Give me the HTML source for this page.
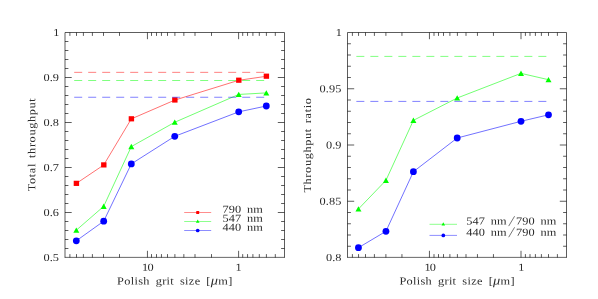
<!DOCTYPE html><html><head><meta charset="utf-8"><style>html,body{margin:0;padding:0;background:#fff}svg{display:block;will-change:transform}text{text-rendering:geometricPrecision;font-family:"Liberation Serif",serif;fill:#2b2b2b}</style></head><body>
<svg width="598" height="299" viewBox="0 0 598 299">
<rect width="598" height="299" fill="#fff"/>
<path d="M65 257.5V32.5H284.5V257.5" stroke="#000" stroke-width="0.64" fill="none"/>
<path d="M64.7 257.38H284.8" stroke="#000" stroke-width="0.6" fill="none"/>
<path d="M147.45 32.5v6.7M147.45 257.5v-6.7M119.50 32.5v3.4M119.50 257.5v-3.4M103.50 32.5v3.4M103.50 257.5v-3.4M92.40 32.5v3.4M92.40 257.5v-3.4M83.40 32.5v3.4M83.40 257.5v-3.4M76.50 32.5v3.4M76.50 257.5v-3.4M69.90 32.5v3.4M69.90 257.5v-3.4M238.60 32.5v6.7M238.60 257.5v-6.7M211.50 32.5v3.4M211.50 257.5v-3.4M195.00 32.5v3.4M195.00 257.5v-3.4M183.85 32.5v3.4M183.85 257.5v-3.4M174.90 32.5v3.4M174.90 257.5v-3.4M167.50 32.5v3.4M167.50 257.5v-3.4M161.45 32.5v3.4M161.45 257.5v-3.4M156.50 32.5v3.4M156.50 257.5v-3.4M151.50 32.5v3.4M151.50 257.5v-3.4M275.30 32.5v3.4M275.30 257.5v-3.4M266.40 32.5v3.4M266.40 257.5v-3.4M259.30 32.5v3.4M259.30 257.5v-3.4M252.90 32.5v3.4M252.90 257.5v-3.4M247.55 32.5v3.4M247.55 257.5v-3.4M242.70 32.5v3.4M242.70 257.5v-3.4M65 248.50h3.4M284.5 248.50h-3.4M65 239.50h3.4M284.5 239.50h-3.4M65 230.50h3.4M284.5 230.50h-3.4M65 221.50h3.4M284.5 221.50h-3.4M65 212.50h6.7M284.5 212.50h-6.7M65 203.50h3.4M284.5 203.50h-3.4M65 194.50h3.4M284.5 194.50h-3.4M65 185.50h3.4M284.5 185.50h-3.4M65 176.50h3.4M284.5 176.50h-3.4M65 167.50h6.7M284.5 167.50h-6.7M65 158.50h3.4M284.5 158.50h-3.4M65 149.50h3.4M284.5 149.50h-3.4M65 140.50h3.4M284.5 140.50h-3.4M65 131.50h3.4M284.5 131.50h-3.4M65 122.50h6.7M284.5 122.50h-6.7M65 113.50h3.4M284.5 113.50h-3.4M65 104.50h3.4M284.5 104.50h-3.4M65 95.50h3.4M284.5 95.50h-3.4M65 86.50h3.4M284.5 86.50h-3.4M65 77.50h6.7M284.5 77.50h-6.7M65 68.50h3.4M284.5 68.50h-3.4M65 59.50h3.4M284.5 59.50h-3.4M65 50.50h3.4M284.5 50.50h-3.4M65 41.50h3.4M284.5 41.50h-3.4" stroke="#000" stroke-width="0.64" fill="none"/>
<text transform="translate(53.20 35.90) rotate(0.03) scale(1.15 1)" font-size="10.7" word-spacing="2.2" textLength="5.04" lengthAdjust="spacing">1</text>
<text transform="translate(43.50 80.90) rotate(0.03) scale(1.15 1)" font-size="10.7" word-spacing="2.2" textLength="13.48" lengthAdjust="spacing">0.9</text>
<text transform="translate(43.50 125.90) rotate(0.03) scale(1.15 1)" font-size="10.7" word-spacing="2.2" textLength="13.48" lengthAdjust="spacing">0.8</text>
<text transform="translate(43.50 170.90) rotate(0.03) scale(1.15 1)" font-size="10.7" word-spacing="2.2" textLength="13.48" lengthAdjust="spacing">0.7</text>
<text transform="translate(43.50 215.90) rotate(0.03) scale(1.15 1)" font-size="10.7" word-spacing="2.2" textLength="13.48" lengthAdjust="spacing">0.6</text>
<text transform="translate(43.50 260.90) rotate(0.03) scale(1.15 1)" font-size="10.7" word-spacing="2.2" textLength="13.48" lengthAdjust="spacing">0.5</text>
<path d="M74.2 72.35H264.6" stroke="#ff0000" stroke-width="0.5" stroke-dasharray="8 6" fill="none"/>
<polyline points="76.30,183.45 103.70,165.00 131.30,118.90 174.75,100.10 238.70,80.30 266.30,76.30" fill="none" stroke="#ff0000" stroke-width="0.56"/>
<rect x="73.70" y="180.75" width="5.4" height="5.2" fill="#ff0000"/>
<rect x="101.10" y="162.30" width="5.4" height="5.2" fill="#ff0000"/>
<rect x="128.70" y="116.20" width="5.4" height="5.2" fill="#ff0000"/>
<rect x="172.15" y="97.40" width="5.4" height="5.2" fill="#ff0000"/>
<rect x="236.10" y="77.60" width="5.4" height="5.2" fill="#ff0000"/>
<rect x="263.70" y="73.60" width="5.4" height="5.2" fill="#ff0000"/>
<path d="M74.2 80.50H264.6" stroke="#00ff00" stroke-width="0.5" stroke-dasharray="8 6" fill="none"/>
<polyline points="76.30,230.20 103.70,206.35 131.30,146.60 174.75,122.25 238.70,94.45 266.30,92.90" fill="none" stroke="#00ff00" stroke-width="0.56"/>
<path d="M76.30 227.45L79.30 232.80H73.30Z" fill="#00ff00"/>
<path d="M103.70 203.60L106.70 208.95H100.70Z" fill="#00ff00"/>
<path d="M131.30 143.85L134.30 149.20H128.30Z" fill="#00ff00"/>
<path d="M174.75 119.50L177.75 124.85H171.75Z" fill="#00ff00"/>
<path d="M238.70 91.70L241.70 97.05H235.70Z" fill="#00ff00"/>
<path d="M266.30 90.15L269.30 95.50H263.30Z" fill="#00ff00"/>
<path d="M74.2 97.25H264.6" stroke="#0000ff" stroke-width="0.5" stroke-dasharray="8 6" fill="none"/>
<polyline points="76.30,240.80 103.70,221.20 131.30,163.90 174.75,136.30 238.70,111.85 266.30,106.00" fill="none" stroke="#0000ff" stroke-width="0.56"/>
<circle cx="76.30" cy="240.80" r="3.4" fill="#0000ff"/>
<circle cx="103.70" cy="221.20" r="3.4" fill="#0000ff"/>
<circle cx="131.30" cy="163.90" r="3.4" fill="#0000ff"/>
<circle cx="174.75" cy="136.30" r="3.4" fill="#0000ff"/>
<circle cx="238.70" cy="111.85" r="3.4" fill="#0000ff"/>
<circle cx="266.30" cy="106.00" r="3.4" fill="#0000ff"/>
<text transform="translate(142.10 270.80) rotate(0.03) scale(1.15 1)" font-size="10.7" word-spacing="2.2" textLength="10.00" lengthAdjust="spacing">10</text>
<text transform="translate(235.60 270.80) rotate(0.03) scale(1.15 1)" font-size="10.7" word-spacing="2.2">1</text>
<text transform="translate(117.10 284.40) rotate(0.03) scale(1.15 1)" font-size="10.7" word-spacing="2.2" textLength="100.17" lengthAdjust="spacing">Polish grit size [<tspan font-style="italic" font-size="12.5">μ</tspan>m]</text>
<text transform="translate(35.20 191.30) rotate(-90.03) scale(1.15 1)" font-size="10.7" word-spacing="1.2" textLength="80.87" lengthAdjust="spacing">Total throughput</text>
<path d="M184.2 212.5H211.2" stroke="#ff0000" stroke-width="0.45"/>
<rect x="196.2" y="210.9" width="3.0" height="3.2" rx="0.6" fill="#ff0000"/>
<text transform="translate(222.50 212.70) rotate(0.03) scale(1.15 1)" font-size="10.7" word-spacing="2.2" textLength="35.04" lengthAdjust="spacing">790 nm</text>
<path d="M184.2 221.5H211.2" stroke="#00ff00" stroke-width="0.45"/>
<path d="M197.7 219.5L199.5 222.7H195.89999999999998Z" fill="#00ff00"/>
<text transform="translate(222.50 221.70) rotate(0.03) scale(1.15 1)" font-size="10.7" word-spacing="2.2" textLength="35.04" lengthAdjust="spacing">547 nm</text>
<path d="M184.2 230.5H211.2" stroke="#0000ff" stroke-width="0.45"/>
<circle cx="197.7" cy="230.5" r="1.85" fill="#0000ff"/>
<text transform="translate(222.50 230.70) rotate(0.03) scale(1.15 1)" font-size="10.7" word-spacing="2.2" textLength="35.04" lengthAdjust="spacing">440 nm</text>
<path d="M347.5 257.5V32.5H566.5V257.5" stroke="#000" stroke-width="0.64" fill="none"/>
<path d="M347.2 257.38H566.8" stroke="#000" stroke-width="0.6" fill="none"/>
<path d="M429.45 32.5v6.7M429.45 257.5v-6.7M401.95 32.5v3.4M401.95 257.5v-3.4M385.90 32.5v3.4M385.90 257.5v-3.4M374.40 32.5v3.4M374.40 257.5v-3.4M365.50 32.5v3.4M365.50 257.5v-3.4M358.55 32.5v3.4M358.55 257.5v-3.4M352.40 32.5v3.4M352.40 257.5v-3.4M521.00 32.5v6.7M521.00 257.5v-6.7M493.45 32.5v3.4M493.45 257.5v-3.4M477.45 32.5v3.4M477.45 257.5v-3.4M466.00 32.5v3.4M466.00 257.5v-3.4M457.40 32.5v3.4M457.40 257.5v-3.4M449.90 32.5v3.4M449.90 257.5v-3.4M443.50 32.5v3.4M443.50 257.5v-3.4M438.50 32.5v3.4M438.50 257.5v-3.4M434.00 32.5v3.4M434.00 257.5v-3.4M557.40 32.5v3.4M557.40 257.5v-3.4M548.50 32.5v3.4M548.50 257.5v-3.4M541.40 32.5v3.4M541.40 257.5v-3.4M535.40 32.5v3.4M535.40 257.5v-3.4M530.00 32.5v3.4M530.00 257.5v-3.4M525.40 32.5v3.4M525.40 257.5v-3.4M347.5 246.25h3.4M566.5 246.25h-3.4M347.5 235.00h3.4M566.5 235.00h-3.4M347.5 223.75h3.4M566.5 223.75h-3.4M347.5 212.50h3.4M566.5 212.50h-3.4M347.5 201.25h6.7M566.5 201.25h-6.7M347.5 190.00h3.4M566.5 190.00h-3.4M347.5 178.75h3.4M566.5 178.75h-3.4M347.5 167.50h3.4M566.5 167.50h-3.4M347.5 156.25h3.4M566.5 156.25h-3.4M347.5 145.00h6.7M566.5 145.00h-6.7M347.5 133.75h3.4M566.5 133.75h-3.4M347.5 122.50h3.4M566.5 122.50h-3.4M347.5 111.25h3.4M566.5 111.25h-3.4M347.5 100.00h3.4M566.5 100.00h-3.4M347.5 88.75h6.7M566.5 88.75h-6.7M347.5 77.50h3.4M566.5 77.50h-3.4M347.5 66.25h3.4M566.5 66.25h-3.4M347.5 55.00h3.4M566.5 55.00h-3.4M347.5 43.75h3.4M566.5 43.75h-3.4" stroke="#000" stroke-width="0.64" fill="none"/>
<text transform="translate(335.70 35.90) rotate(0.03) scale(1.15 1)" font-size="10.7" word-spacing="2.2" textLength="5.04" lengthAdjust="spacing">1</text>
<text transform="translate(319.50 92.15) rotate(0.03) scale(1.15 1)" font-size="10.7" word-spacing="2.2" textLength="19.13" lengthAdjust="spacing">0.95</text>
<text transform="translate(326.00 148.40) rotate(0.03) scale(1.15 1)" font-size="10.7" word-spacing="2.2" textLength="13.48" lengthAdjust="spacing">0.9</text>
<text transform="translate(319.50 204.65) rotate(0.03) scale(1.15 1)" font-size="10.7" word-spacing="2.2" textLength="19.13" lengthAdjust="spacing">0.85</text>
<text transform="translate(326.00 260.90) rotate(0.03) scale(1.15 1)" font-size="10.7" word-spacing="2.2" textLength="13.48" lengthAdjust="spacing">0.8</text>
<path d="M356.35 56.40H547" stroke="#00ff00" stroke-width="0.5" stroke-dasharray="8 6" fill="none"/>
<polyline points="358.45,209.00 385.95,180.35 413.40,120.35 457.20,98.00 521.00,73.35 548.50,79.70" fill="none" stroke="#00ff00" stroke-width="0.56"/>
<path d="M358.45 206.25L361.45 211.60H355.45Z" fill="#00ff00"/>
<path d="M385.95 177.60L388.95 182.95H382.95Z" fill="#00ff00"/>
<path d="M413.40 117.60L416.40 122.95H410.40Z" fill="#00ff00"/>
<path d="M457.20 95.25L460.20 100.60H454.20Z" fill="#00ff00"/>
<path d="M521.00 70.60L524.00 75.95H518.00Z" fill="#00ff00"/>
<path d="M548.50 76.95L551.50 82.30H545.50Z" fill="#00ff00"/>
<path d="M356.35 101.40H547" stroke="#0000ff" stroke-width="0.5" stroke-dasharray="8 6" fill="none"/>
<polyline points="358.45,247.70 385.95,231.30 413.40,171.70 457.20,138.00 521.00,121.30 548.50,114.80" fill="none" stroke="#0000ff" stroke-width="0.56"/>
<circle cx="358.45" cy="247.70" r="3.4" fill="#0000ff"/>
<circle cx="385.95" cy="231.30" r="3.4" fill="#0000ff"/>
<circle cx="413.40" cy="171.70" r="3.4" fill="#0000ff"/>
<circle cx="457.20" cy="138.00" r="3.4" fill="#0000ff"/>
<circle cx="521.00" cy="121.30" r="3.4" fill="#0000ff"/>
<circle cx="548.50" cy="114.80" r="3.4" fill="#0000ff"/>
<text transform="translate(424.40 270.80) rotate(0.03) scale(1.15 1)" font-size="10.7" word-spacing="2.2" textLength="10.00" lengthAdjust="spacing">10</text>
<text transform="translate(518.20 270.80) rotate(0.03) scale(1.15 1)" font-size="10.7" word-spacing="2.2">1</text>
<text transform="translate(399.40 284.40) rotate(0.03) scale(1.15 1)" font-size="10.7" word-spacing="2.2" textLength="100.17" lengthAdjust="spacing">Polish grit size [<tspan font-style="italic" font-size="12.5">μ</tspan>m]</text>
<text transform="translate(311.10 192.60) rotate(-90.03) scale(1.15 1)" font-size="10.7" word-spacing="1.0" textLength="82.26" lengthAdjust="spacing">Throughput ratio</text>
<path d="M429.5 224.3H457.0" stroke="#00ff00" stroke-width="0.45"/>
<path d="M443.3 222.3L445.1 225.5H441.5Z" fill="#00ff00"/>
<text transform="translate(466.30 224.60) rotate(0.03) scale(1.15 1)" font-size="10.7" word-spacing="2.2" textLength="34.96" lengthAdjust="spacing">547 nm</text>
<path d="M508.7 226.10L514.6 216.20" stroke="#222" stroke-width="0.62" fill="none"/>
<text transform="translate(516.00 224.60) rotate(0.03) scale(1.15 1)" font-size="10.7" word-spacing="2.2" textLength="35.04" lengthAdjust="spacing">790 nm</text>
<path d="M429.5 235.4H457.0" stroke="#0000ff" stroke-width="0.45"/>
<circle cx="443.3" cy="235.4" r="1.85" fill="#0000ff"/>
<text transform="translate(466.30 235.70) rotate(0.03) scale(1.15 1)" font-size="10.7" word-spacing="2.2" textLength="34.96" lengthAdjust="spacing">440 nm</text>
<path d="M508.7 237.20L514.6 227.30" stroke="#222" stroke-width="0.62" fill="none"/>
<text transform="translate(516.00 235.70) rotate(0.03) scale(1.15 1)" font-size="10.7" word-spacing="2.2" textLength="35.04" lengthAdjust="spacing">790 nm</text>
</svg></body></html>
